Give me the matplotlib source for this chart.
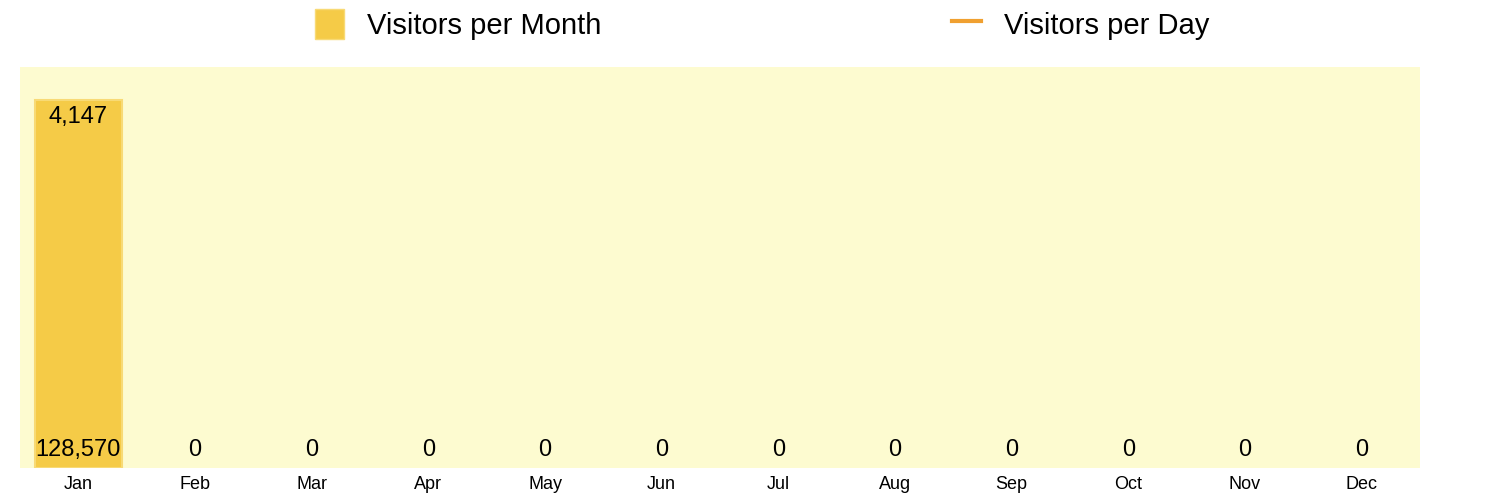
import matplotlib
matplotlib.use("Agg")
import matplotlib.pyplot as plt
from matplotlib.lines import Line2D
from matplotlib.patches import Patch

plt.rcParams['font.family'] = ['Liberation Sans', 'DejaVu Sans']

months = ["Jan","Feb","Mar","Apr","May","Jun","Jul","Aug","Sep","Oct","Nov","Dec"]
per_month = [128570,0,0,0,0,0,0,0,0,0,0,0]
per_day = [4147]

fig = plt.figure(figsize=(15,5), dpi=100)
ax = fig.add_axes([20/1500, 32/500, 1400/1500, 401/500])
ax.set_facecolor("#fdfbd0")
x = range(len(months))
bars = ax.bar(x, per_month, width=0.74, color="#f5cb47", edgecolor="#f8da75", linewidth=1.5)
for b, v in zip(bars, per_month):
    if v == 0:
        b.set_linewidth(0)
ax.set_xlim(-0.5, 11.5)
ax.set_ylim(0, 140100)
for s in ax.spines.values():
    s.set_visible(False)
ax.set_yticks([])
ax.set_xticks(list(x))
ax.set_xticklabels(months, fontsize=13)
ax.tick_params(axis="x", length=0, pad=6)
for i, v in enumerate(per_month):
    ax.text(i, 2500, f"{v:,}", ha="center", va="bottom", fontsize=17)
for i, v in enumerate(per_day):
    ax.text(i, 128570 * 0.985, f"{v:,}", ha="center", va="top", fontsize=17)

h1 = Patch(facecolor="#f5cb47", edgecolor="#f8da75")
h2 = Line2D([], [], color="#f0a030", lw=3)
fig.legend([h1, h2], ["Visitors per Month", "Visitors per Day"], loc="upper center",
           bbox_to_anchor=(0.508, 1.035), ncol=2, frameon=False, fontsize=21,
           columnspacing=12, handlelength=1.0, handleheight=1.2)
fig.savefig("out.png")
